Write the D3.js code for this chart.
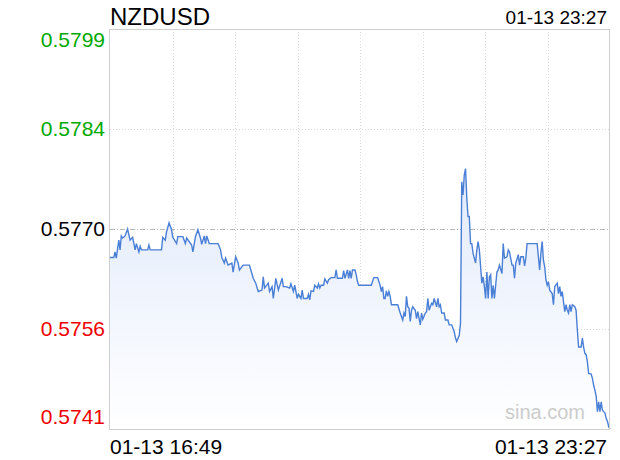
<!DOCTYPE html>
<html>
<head>
<meta charset="utf-8">
<script src="https://cdn.jsdelivr.net/npm/d3@7"></script>
<style>
  body { margin: 0; background: #fff; }
  text { font-family: "Liberation Sans", Arial, sans-serif; }
</style>
</head>
<body>
<svg id="chart" width="620" height="460"></svg>
<script>
// Symbol and session info
var symbol = "NZDUSD",
    dateLabel = "01-13",
    startTime = "16:49",
    endTime = "23:27";

// Price range of the chart and the reference (previous close) price
var priceRange = [0.57412, 0.57988],
    prevClose = 0.57700;

// Minutes since 16:49 and the price at each point
var minuteOffsets = [0,3,4,5,7,8,9,10,12,14,16,18,20,21,23,24,25,30,31,32,41,42,44,45,47,49,50,53,54,58,
  60,61,65,66,68,70,72,73,75,76,77,79,86,88,89,91,92,94,97,98,100,102,103,106,111,114,116,118,121,122,
  123,126,127,129,130,132,134,137,138,140,143,144,146,147,148,149,150,152,153,154,157,158,159,160,162,163,165,166,167,168,
  170,171,173,174,176,179,180,181,185,186,187,189,190,191,192,193,195,196,197,198,208,210,213,215,216,217,218,219,220,221,
  222,223,224,229,231,232,233,234,235,236,237,238,239,240,241,243,244,245,247,248,249,251,252,253,254,256,257,258,260,261,
  262,263,264,266,267,269,270,272,274,275,276,278,279,280,281,282,283,284,285,286,287,288,289,291,292,293,294,295,296,297,
  298,299,300,301,302,303,304,305,306,307,308,309,310,312,313,314,316,317,318,320,321,322,323,325,326,327,329,330,331,332,
  340,342,343,344,345,346,347,348,349,350,352,353,354,356,357,358,359,360,361,362,363,364,365,366,367,368,370,371,372,373,
  375,376,377,378,379,380,381,383,384,385,386,387,388,389,390,391,392,393,394,395,396,397,398];

var prices = [0.57659,0.57659,0.57667,0.57658,0.57684,0.57670,0.57690,0.57687,0.57690,0.57700,0.57684,0.57688,0.57670,0.57679,0.57667,0.57675,0.57670,0.57670,0.57677,0.57670,
  0.57670,0.57688,0.57684,0.57696,0.57709,0.57699,0.57688,0.57679,0.57689,0.57689,0.57679,0.57687,0.57677,0.57667,0.57689,0.57699,0.57687,0.57678,0.57690,0.57679,
  0.57690,0.57679,0.57679,0.57670,0.57659,0.57651,0.57658,0.57648,0.57651,0.57638,0.57660,0.57651,0.57641,0.57648,0.57648,0.57629,0.57622,0.57610,0.57612,0.57631,
  0.57615,0.57622,0.57610,0.57617,0.57600,0.57629,0.57612,0.57629,0.57617,0.57617,0.57615,0.57621,0.57610,0.57619,0.57610,0.57600,0.57606,0.57600,0.57612,0.57600,
  0.57600,0.57606,0.57598,0.57611,0.57610,0.57619,0.57615,0.57621,0.57615,0.57619,0.57619,0.57628,0.57622,0.57627,0.57630,0.57630,0.57641,0.57629,0.57629,0.57640,
  0.57629,0.57641,0.57629,0.57640,0.57629,0.57641,0.57641,0.57634,0.57624,0.57619,0.57619,0.57630,0.57630,0.57619,0.57610,0.57617,0.57600,0.57600,0.57611,0.57603,
  0.57610,0.57603,0.57591,0.57591,0.57579,0.57574,0.57569,0.57579,0.57574,0.57603,0.57588,0.57586,0.57567,0.57583,0.57588,0.57583,0.57571,0.57581,0.57562,0.57579,
  0.57570,0.57579,0.57581,0.57600,0.57583,0.57593,0.57591,0.57600,0.57588,0.57600,0.57588,0.57591,0.57579,0.57579,0.57569,0.57569,0.57562,0.57562,0.57552,0.57543,
  0.57538,0.57547,0.57564,0.57768,0.57749,0.57778,0.57787,0.57745,0.57718,0.57718,0.57679,0.57679,0.57665,0.57651,0.57670,0.57682,0.57670,0.57646,0.57622,0.57631,
  0.57617,0.57600,0.57638,0.57600,0.57631,0.57634,0.57600,0.57619,0.57600,0.57619,0.57638,0.57641,0.57648,0.57636,0.57679,0.57658,0.57660,0.57670,0.57667,0.57648,
  0.57648,0.57629,0.57651,0.57663,0.57648,0.57660,0.57660,0.57647,0.57658,0.57679,0.57679,0.57641,0.57665,0.57682,0.57655,0.57646,0.57627,0.57619,0.57624,0.57612,
  0.57607,0.57591,0.57617,0.57622,0.57607,0.57617,0.57603,0.57610,0.57595,0.57581,0.57591,0.57583,0.57579,0.57591,0.57581,0.57591,0.57588,0.57583,0.57555,0.57530,
  0.57530,0.57543,0.57530,0.57521,0.57519,0.57509,0.57492,0.57491,0.57485,0.57475,0.57468,0.57459,0.57437,0.57451,0.57437,0.57451,0.57439,0.57437,0.57435,0.57427,
  0.57423,0.57415,0.57412];

// Plot box
var plotLeft = 110, plotRight = 610, plotTop = 29, plotBottom = 429,
    xDivisions = 8, yDivisions = 4;

var parseTime = d3.timeParse("%H:%M");
var totalMinutes = (parseTime(endTime) - parseTime(startTime)) / 60000;

var data = minuteOffsets.map(function(m, i) { return { m: m, p: prices[i] }; });

var x = d3.scaleLinear().domain([0, totalMinutes]).range([plotLeft, plotRight]);
var y = d3.scaleLinear().domain(priceRange).range([plotBottom, plotTop]);

var svg = d3.select("#chart");

// Gradient under the line
var grad = svg.append("defs").append("linearGradient")
  .attr("id", "fillGrad")
  .attr("x1", 0).attr("y1", 0).attr("x2", 0).attr("y2", 1);
grad.append("stop").attr("offset", "0%").attr("stop-color", "#e1eafb");
grad.append("stop").attr("offset", "100%").attr("stop-color", "#ffffff");

// Grid values evenly spaced over the price range
var yTicks = d3.range(yDivisions + 1).map(function(i) {
  return priceRange[0] + i * (priceRange[1] - priceRange[0]) / yDivisions;
});
var xTicks = d3.range(1, xDivisions).map(function(i) { return i * totalMinutes / xDivisions; });

// Vertical dotted grid
svg.selectAll(".vgrid")
  .data(xTicks)
  .enter().append("line")
  .attr("class", "vgrid")
  .attr("x1", function(d) { return Math.round(x(d)) + 0.5; })
  .attr("x2", function(d) { return Math.round(x(d)) + 0.5; })
  .attr("y1", plotTop).attr("y2", plotBottom)
  .attr("stroke", "#d8d8d8")
  .attr("stroke-dasharray", "1,2");

// Horizontal grid, the previous close line is dash-dot
svg.selectAll(".hgrid")
  .data(yTicks.slice(1, yDivisions))
  .enter().append("line")
  .attr("class", "hgrid")
  .attr("x1", plotLeft).attr("x2", plotRight)
  .attr("y1", function(d) { return Math.round(y(d)) + 0.5; })
  .attr("y2", function(d) { return Math.round(y(d)) + 0.5; })
  .attr("stroke", function(d) { return Math.abs(d - prevClose) < 1e-6 ? "#b8b8b8" : "#d8d8d8"; })
  .attr("stroke-dasharray", function(d) { return Math.abs(d - prevClose) < 1e-6 ? "5,2,1,2" : "1,2"; });

// Area and line
var area = d3.area()
  .x(function(d) { return x(d.m); })
  .y0(plotBottom)
  .y1(function(d) { return y(d.p); });

var line = d3.line()
  .x(function(d) { return x(d.m); })
  .y(function(d) { return y(d.p); });

svg.append("path")
  .datum(data)
  .attr("d", area)
  .attr("fill", "url(#fillGrad)");

// Watermark
svg.append("text")
  .attr("x", 585).attr("y", 419)
  .attr("text-anchor", "end")
  .attr("font-size", 20)
  .attr("fill", "#cccccc")
  .text("sina.com");

svg.append("path")
  .datum(data)
  .attr("d", line)
  .attr("fill", "none")
  .attr("stroke", "#4a7fd6")
  .attr("stroke-width", 1.4);

// Plot border
svg.append("rect")
  .attr("x", plotLeft - 0.5).attr("y", plotTop + 0.5)
  .attr("width", plotRight - plotLeft).attr("height", plotBottom - plotTop)
  .attr("fill", "none")
  .attr("stroke", "#cfcfcf");

// Y labels, coloured against the previous close
svg.selectAll(".ylabel")
  .data(yTicks)
  .enter().append("text")
  .attr("class", "ylabel")
  .attr("x", 105)
  .attr("y", function(d, i) {
    if (i === 0) return y(d) - 5;
    if (i === yDivisions) return y(d) + 18;
    return y(d) + 7;
  })
  .attr("text-anchor", "end")
  .attr("font-size", 21)
  .attr("fill", function(d) {
    if (Math.abs(d - prevClose) < 1e-6) return "#000";
    return d > prevClose ? "#00aa00" : "#f00000";
  })
  .text(function(d) { return d3.format(".4f")(d); });

// Title and times
svg.append("text")
  .attr("x", 110).attr("y", 25)
  .attr("font-size", 24)
  .attr("fill", "#000")
  .text(symbol);

svg.append("text")
  .attr("x", 607).attr("y", 24)
  .attr("text-anchor", "end")
  .attr("font-size", 19)
  .attr("fill", "#000")
  .text(dateLabel + " " + endTime);

svg.append("text")
  .attr("x", 110).attr("y", 454)
  .attr("font-size", 21)
  .attr("fill", "#000")
  .text(dateLabel + " " + startTime);

svg.append("text")
  .attr("x", 607).attr("y", 454)
  .attr("text-anchor", "end")
  .attr("font-size", 21)
  .attr("fill", "#000")
  .text(dateLabel + " " + endTime);
</script>
</body>
</html>
